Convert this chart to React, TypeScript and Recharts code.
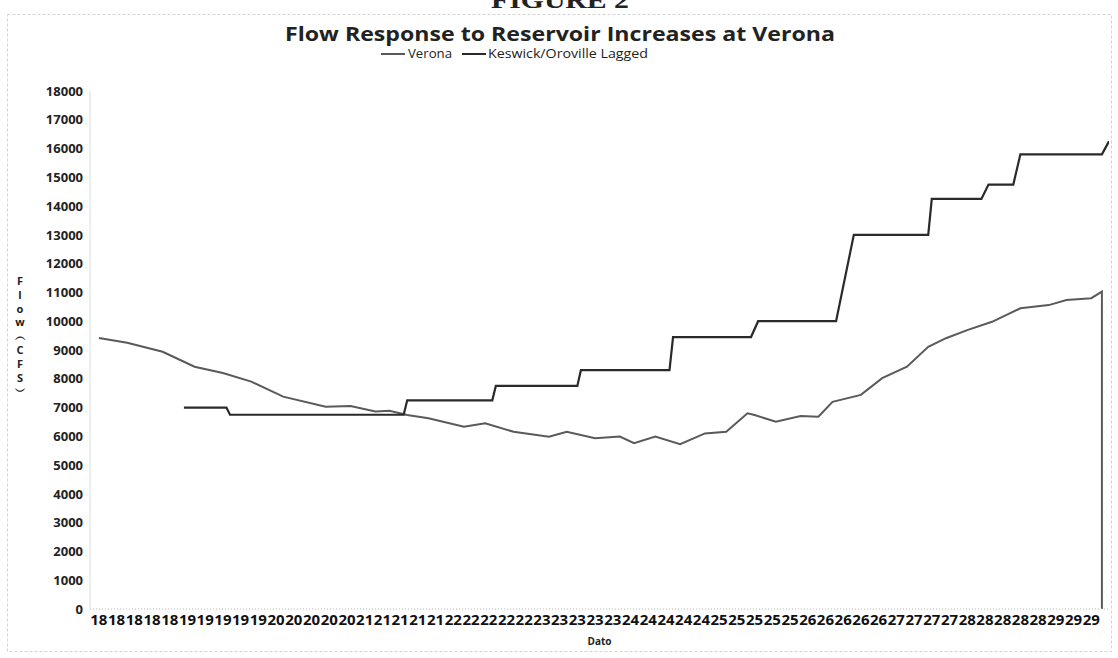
import React from 'react';
import { LineChart, Line, XAxis, YAxis } from 'recharts';

// x-axis tick labels (day of month), one every 5 hours
const dayLabels: string[] = [
  '18', '18', '18', '18', '18',
  '19', '19', '19', '19', '19',
  '20', '20', '20', '20', '20',
  '21', '21', '21', '21', '21',
  '22', '22', '22', '22', '22',
  '23', '23', '23', '23', '23',
  '24', '24', '24', '24', '24',
  '25', '25', '25', '25', '25',
  '26', '26', '26', '26', '26',
  '27', '27', '27', '27',
  '28', '28', '28', '28', '28',
  '29', '29', '29',
];
const hoursPerLabel = 5;

const flowTicks: number[] = [0, 1000, 2000, 3000, 4000, 5000, 6000, 7000, 8000, 9000, 10000, 11000, 12000, 13000, 14000, 15000, 16000, 17000, 18000];

// Verona observed flow (hours since start, cfs)
const veronaHours: number[] = [0, 8, 18, 27, 35, 43, 52, 64, 71, 78, 82, 87, 93, 103, 109, 117, 127, 132, 140, 147, 151, 157, 164, 171, 177, 183, 185, 191, 198, 203, 207, 215, 221, 228, 234, 239, 245, 252, 260, 268, 273, 280, 283, 283];
const veronaFlow: number[] = [9420, 9250, 8940, 8420, 8200, 7900, 7380, 7030, 7050, 6860, 6890, 6740, 6630, 6330, 6450, 6160, 5990, 6160, 5930, 5990, 5760, 5990, 5730, 6100, 6160, 6800, 6740, 6510, 6710, 6680, 7200, 7440, 8020, 8420, 9110, 9410, 9690, 9980, 10450, 10560, 10740, 10800, 11030, 0];

// Keswick/Oroville lagged releases (hours since start, cfs)
const keswickHours: number[] = [24, 36, 37, 86, 87, 111, 112, 135, 136, 161, 162, 184, 186, 208, 213, 234, 235, 249, 251, 258, 260, 283, 285];
const keswickFlow: number[] = [7000, 7000, 6750, 6750, 7250, 7250, 7750, 7750, 8300, 8300, 9450, 9450, 10000, 10000, 13000, 13000, 14250, 14250, 14750, 14750, 15800, 15800, 16250];

const veronaData = veronaHours.map((h, i) => ({ h, v: veronaFlow[i] }));
const keswickData = keswickHours.map((h, i) => ({ h, v: keswickFlow[i] }));
const tickHours = dayLabels.map((_, i) => i * hoursPerLabel);

const FONT = '"Open Sans", "DejaVu Sans", sans-serif';
const VERONA_COLOR = '#5a5a5a';
const KESWICK_COLOR = '#2a2a2a';

const yLetters = ['F', 'l', 'o', 'w', '︵', 'C', 'F', 'S', '︶'];

const YLabel = () => (
  <text x={20} y={285} textAnchor="middle" fontFamily={FONT} fontSize={11} fontWeight={700} fill="#222">
    {yLetters.map((c, i) => (
      <tspan key={i} x={20} dy={i === 0 ? 0 : 13.8}>{c}</tspan>
    ))}
  </text>
);

export default function App() {
  return (
    <div style={{ position: 'absolute', left: 0, top: 0, width: 1118, height: 658, background: '#fff' }}>
      <LineChart width={1118} height={658} margin={{ top: 91, right: 9, bottom: 19, left: 0 }}>
        <XAxis
          type="number"
          dataKey="h"
          domain={[-2.5, 285]}
          ticks={tickHours}
          interval={0}
          allowDataOverflow
          tickFormatter={(v: number) => dayLabels[Math.round(v / hoursPerLabel)] ?? ''}
          height={30}
          tickSize={0}
          tickMargin={5}
          tickLine={false}
          axisLine={{ stroke: '#b8b8b8', strokeDasharray: '1 2' }}
          tick={{ fontFamily: FONT, fontSize: 15, fontWeight: 700, fill: '#111' }}
          label={{ value: 'Dato', position: 'insideBottom', offset: -6, fontFamily: FONT, fontSize: 10, fontWeight: 700, fill: '#222' }}
        />
        <YAxis
          type="number"
          domain={[0, 18000]}
          ticks={flowTicks}
          interval={0}
          width={90}
          tickSize={0}
          tickMargin={7}
          tickLine={false}
          axisLine={{ stroke: '#dcdcdc' }}
          tick={{ fontFamily: FONT, fontSize: 13, fontWeight: 700, fill: '#222' }}
          label={{ content: () => <YLabel /> }}
        />
        <Line
          data={veronaData}
          dataKey="v"
          name="Verona"
          type="linear"
          stroke={VERONA_COLOR}
          strokeWidth={2}
          dot={false}
          isAnimationActive={false}
        />
        <Line
          data={keswickData}
          dataKey="v"
          name="Keswick/Oroville Lagged"
          type="linear"
          stroke={KESWICK_COLOR}
          strokeWidth={2.2}
          dot={false}
          isAnimationActive={false}
        />
      </LineChart>
      <svg width={1118} height={658} style={{ position: 'absolute', left: 0, top: 0, pointerEvents: 'none' }}>
        <rect x={7.5} y={14.5} width={1104} height={637} fill="none" stroke="#d4d4d4" strokeDasharray="3 2" />
        <text x={560} y={8} textAnchor="middle" fontFamily='"Liberation Serif", serif' fontSize={24} fontWeight={700} fill="#222" textLength={138} lengthAdjust="spacingAndGlyphs">FIGURE 2</text>
        <text x={560} y={41} textAnchor="middle" fontFamily={FONT} fontSize={19} fontWeight={700} fill="#222" textLength={550} lengthAdjust="spacingAndGlyphs">Flow Response to Reservoir Increases at Verona</text>
        <line x1={381} y1={54} x2={405} y2={54} stroke={VERONA_COLOR} strokeWidth={2} />
        <text x={408} y={58} fontFamily={FONT} fontSize={12} fill="#222" textLength={44} lengthAdjust="spacingAndGlyphs">Verona</text>
        <line x1={462} y1={54} x2={486} y2={54} stroke={KESWICK_COLOR} strokeWidth={2} />
        <text x={488} y={58} fontFamily={FONT} fontSize={12} fill="#222" textLength={160} lengthAdjust="spacingAndGlyphs">Keswick/Oroville Lagged</text>
      </svg>
    </div>
  );
}
